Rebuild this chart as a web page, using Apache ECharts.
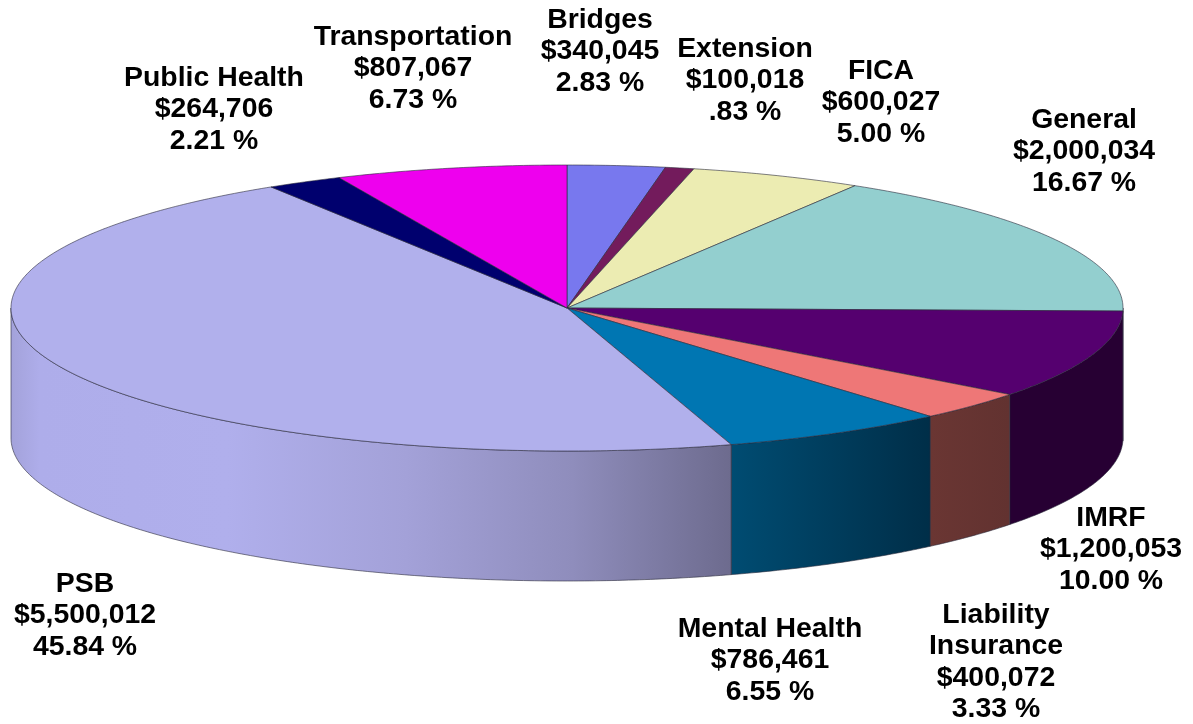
<!DOCTYPE html>
<html>
<head>
<meta charset="utf-8">
<style>
  html, body { margin: 0; padding: 0; background: #fff; }
  #chart { width: 1193px; height: 724px; }
</style>
<script src="https://cdn.jsdelivr.net/npm/echarts@6/dist/echarts.min.js"></script>
</head>
<body>
<div id="chart"></div>
<script>
const names = ["Bridges", "Extension", "FICA", "General", "IMRF", "Liability\nInsurance",
               "Mental Health", "PSB", "Public Health", "Transportation"];
const amounts = [340045, 100018, 600027, 2000034, 1200053, 400072, 786461, 5500012, 264706, 807067];

const topColors = ["#7878ee", "#731b5c", "#ececb2", "#93cfcf", "#55006f", "#ee7777",
                   "#0076b2", "#b1b0ec", "#00006e", "#ee00ee"];
// General only just crosses the rim, its sliver of wall reads as part of IMRF's
const wallFrom = { 3: "#270033", 4: "#270033", 5: "#6a3633", 6: "#004c72" };
const wallTo   = { 3: "#270033", 4: "#270033", 5: "#623230", 6: "#002e48" };

// label anchors: centre x, top y of the first line
const labelAt = [[600, 4], [745, 33], [881, 55], [1084, 104], [1111, 502],
                 [996, 599], [770, 613], [85, 568], [214, 62], [413, 21]];

// pie geometry in px
const CX = 567, CY = 308, RX = 556, RY = 143, DEPTH = 130;

const total = amounts.reduce((a, b) => a + b, 0);
let cum = 0;
const starts = amounts.map(v => { const s = cum; cum += v; return s; });

const rimPoint = (t, dy) => [CX + RX * Math.sin(t), CY - RY * Math.cos(t) + (dy || 0)];

function arcPoints(a0, a1, dy) {
  const n = Math.max(2, Math.ceil((a1 - a0) / 0.01));
  const pts = [];
  for (let i = 0; i <= n; i++) pts.push(rimPoint(a0 + (a1 - a0) * i / n, dy));
  return pts;
}

function wallFill(i) {
  if (i === 7) {
    // long PSB wall, shading runs across the whole face
    return {
      type: "linear", x: 11, y: 0, x2: 731, y2: 0, global: true,
      colorStops: [
        { offset: 0, color: "#a3a2da" }, { offset: 0.04, color: "#aeadea" },
        { offset: 0.3, color: "#b0afec" }, { offset: 0.55, color: "#a3a1d8" },
        { offset: 0.78, color: "#8f8dbc" }, { offset: 1, color: "#6d6b8e" }
      ]
    };
  }
  return {
    type: "linear", x: 0, y: 0, x2: 1, y2: 0,
    colorStops: [{ offset: 0, color: wallFrom[i] }, { offset: 1, color: wallTo[i] }]
  };
}

function renderSlice(params, api) {
  const i = params.dataIndex;
  const a0 = starts[i] / total * Math.PI * 2;
  const a1 = (starts[i] + api.value(0)) / total * Math.PI * 2;
  const children = [];
  const edge = { stroke: "#2a2a3a", lineWidth: 0.6 };

  // wall only on the front half of the rim
  const w0 = Math.max(a0, Math.PI / 2), w1 = Math.min(a1, Math.PI * 1.5);
  if (w1 > w0) {
    const pts = arcPoints(w0, w1, 0).concat(arcPoints(w0, w1, DEPTH).reverse());
    children.push({ type: "polygon", shape: { points: pts },
      style: { fill: wallFill(i), ...edge } });
  }

  children.push({ type: "polygon", shape: { points: [[CX, CY]].concat(arcPoints(a0, a1, 0)) },
    style: { fill: topColors[i], ...edge } });

  const pct = (api.value(0) / total * 100).toFixed(2).replace(/^0/, "");
  children.push({
    type: "text", x: labelAt[i][0], y: labelAt[i][1], z2: 10,
    style: {
      text: `${names[i]}\n$${api.value(0).toLocaleString("en-US")}\n${pct} %`,
      font: 'bold 28.4px "Liberation Sans", Arial, sans-serif',
      lineHeight: 31.5, fill: "#000", align: "center", verticalAlign: "top"
    }
  });
  return { type: "group", children };
}

const chart = echarts.init(document.getElementById("chart"), null, { renderer: "canvas" });
chart.setOption({
  animation: false,
  backgroundColor: "#fff",
  series: [{
    type: "custom",
    coordinateSystem: "none",
    silent: true,
    renderItem: renderSlice,
    data: amounts.map(v => [v])
  }]
});
</script>
</body>
</html>
